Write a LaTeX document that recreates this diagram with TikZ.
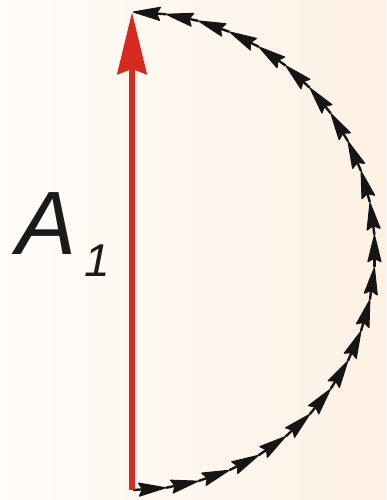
\documentclass[tikz,border=0pt]{standalone}
\usepackage{fontspec}
\setmainfont{Liberation Sans}
\usetikzlibrary{arrows.meta,calc}
\definecolor{bgleft}{HTML}{FFFCF9}
\definecolor{bgright}{HTML}{FEF1E4}
\definecolor{vecred}{HTML}{D42A20}
\definecolor{chainblack}{HTML}{151515}
\definecolor{labelgray}{HTML}{1A1A1A}
\tikzset{
  chainline/.style={draw=chainblack, line width=2.4pt},
  chainhead/.style={fill=chainblack, draw=chainblack, line width=1.2pt, line join=round},
  redvector/.style={draw=vecred, line width=6.5pt, -{Stealth[length=62pt,width=29pt,inset=5pt]}},
  biglabel/.style={inner sep=0pt, text=labelgray, font=\fontsize{90}{90}\selectfont\itshape},
  sublabel/.style={inner sep=0pt, text=labelgray, font=\fontsize{46}{46}\selectfont\itshape}
}
\begin{document}
\begin{tikzpicture}[x=1pt,y=1pt]
\useasboundingbox (0,0) rectangle (386,500);
\shade[left color=bgleft, right color=bgright] (0,0) rectangle (386,500);
% semicircle of small arrows
\coordinate (c) at (133,249);
\foreach \i in {0,...,23}{
  \pgfmathsetmacro{\aa}{-90+\i*180/23}
  \coordinate (p\i) at ($(c)+(\aa:242 and 239)$);
}
\foreach \i in {0,...,22}{
  \pgfmathtruncatemacro{\j}{\i+1}
  \pgfmathsetmacro{\dir}{-90+(\i+0.5)*180/23+90}
  \draw[chainline] (p\i) -- ($(p\j)!22pt!(p\i)$);
  \filldraw[chainhead, shift={(p\j)}, rotate=\dir] (-0.5,0) -- (-27,6.5) -- (-23.5,0) -- (-27,-6.5) -- cycle;
}
% red vector
\coordinate (bot) at (132,10);
\coordinate (top) at (132,488);
\draw[redvector] (bot) -- (top);
% label
\node[biglabel, anchor=base west] (A) at (16,245) {A};
\node[sublabel, anchor=base west] (one) at (84,223) {1};
\end{tikzpicture}
\end{document}
